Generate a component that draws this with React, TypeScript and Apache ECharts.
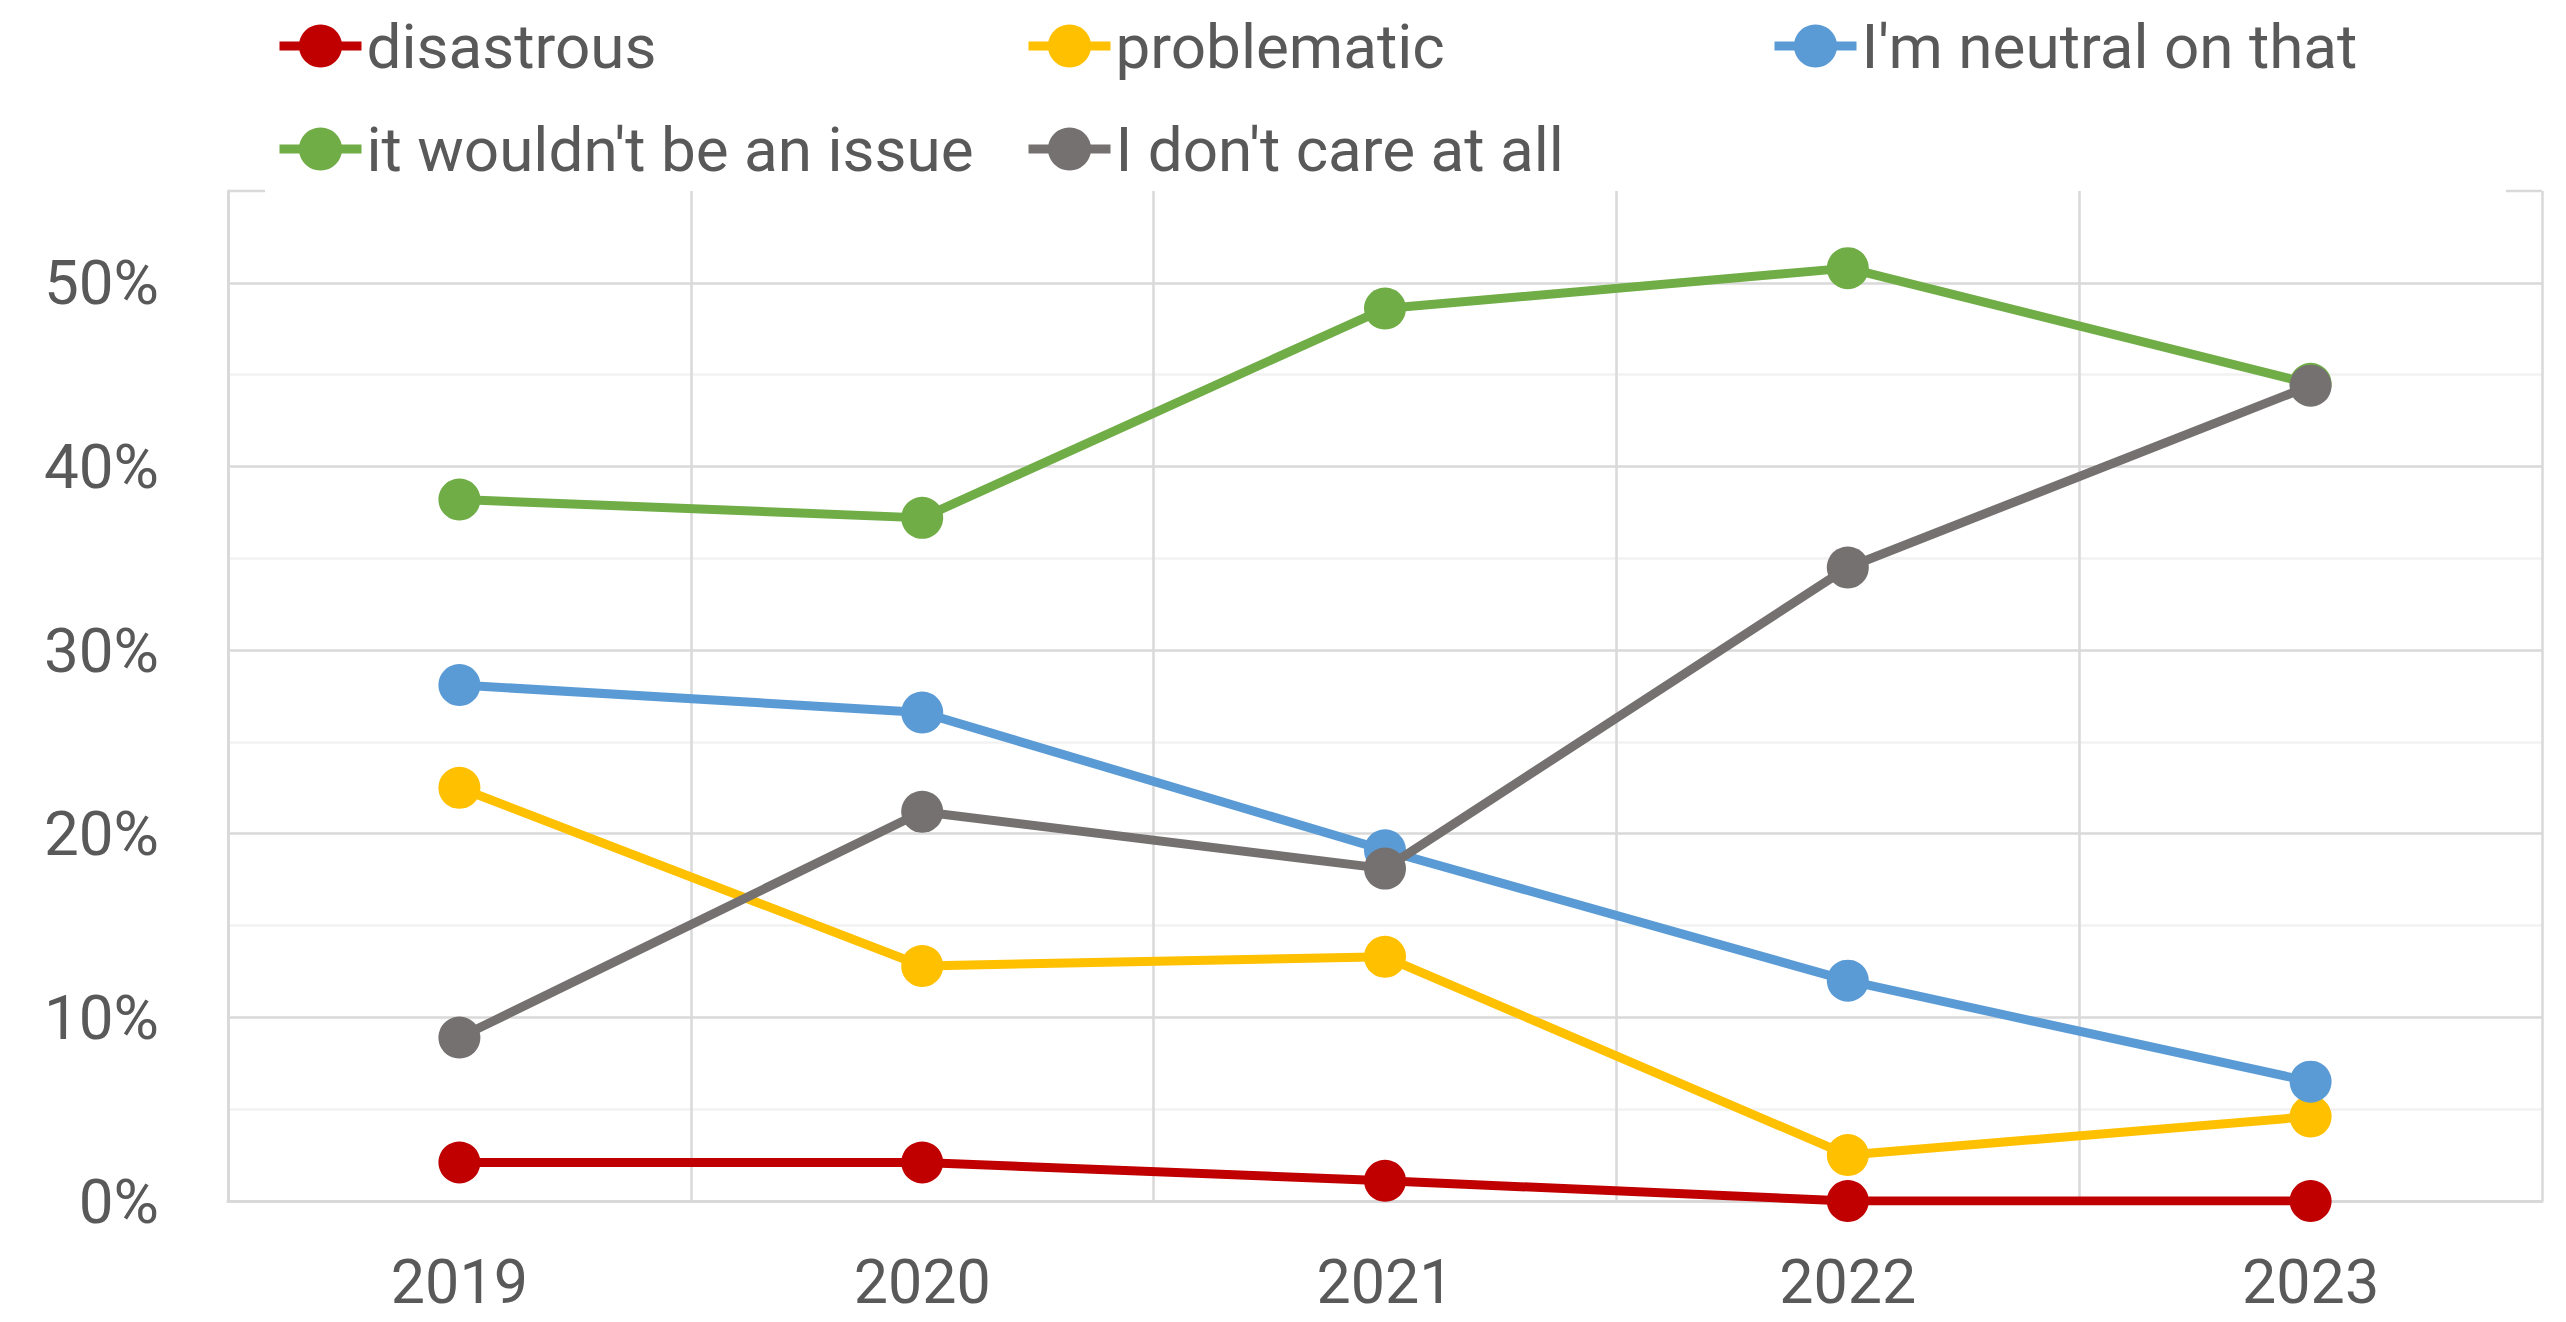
import React, { useEffect, useRef } from "react";
import * as echarts from "echarts";

const years = ["2019", "2020", "2021", "2022", "2023"];
const seriesNames = [
  "disastrous",
  "problematic",
  "I'm neutral on that",
  "it wouldn't be an issue",
  "I don't care at all",
];
const disastrous = [2.1, 2.1, 1.1, 0, 0];
const problematic = [22.5, 12.8, 13.3, 2.5, 4.6];
const neutral = [28.1, 26.6, 19.1, 12.0, 6.5];
const notAnIssue = [38.2, 37.2, 48.6, 50.8, 44.5];
const dontCare = [8.9, 21.2, 18.1, 34.5, 44.4];
const seriesColors = ["#C00000", "#FFC000", "#5B9BD5", "#70AD47", "#767171"];
const yTicks = [0, 5, 10, 15, 20, 25, 30, 35, 40, 45, 50, 55];

const TEXT = "#595959";
const FONT = "Roboto";

export default function App() {
  const ref = useRef<HTMLDivElement>(null);

  useEffect(() => {
    if (!ref.current) return;
    const chart = echarts.init(ref.current, undefined, { renderer: "svg" });
    const values = [disastrous, problematic, neutral, notAnIssue, dontCare];

    const legendPos = [
      { left: 275, top: 0 },
      { left: 1024, top: 0 },
      { left: 1770, top: 0 },
      { left: 275, top: 103 },
      { left: 1024, top: 103 },
    ];

    const splitColors = yTicks.map((t, i) =>
      i === yTicks.length - 1 ? "rgba(0,0,0,0)" : t % 10 === 0 ? "#D9D9D9" : "#F2F2F2"
    );

    chart.setOption({
      animation: false,
      backgroundColor: "#FFFFFF",
      textStyle: { fontFamily: FONT },
      legend: seriesNames.map((name, i) => ({
        data: [name],
        left: legendPos[i].left,
        top: legendPos[i].top + 15,
        padding: 0,
        itemWidth: 82,
        itemHeight: 54,
        selectedMode: false,
        lineStyle: { width: 9 },
        textStyle: { color: TEXT, fontSize: 62, fontFamily: FONT },
      })),
      grid: { left: 228, right: 24, top: 191, bottom: 121 },
      xAxis: {
        type: "category",
        data: years,
        boundaryGap: true,
        axisLine: { show: true, lineStyle: { color: "#D9D9D9", width: 3 } },
        axisTick: { show: false },
        axisLabel: { color: TEXT, fontSize: 61, lineHeight: 61, fontFamily: FONT, margin: 50 },
        splitLine: { show: true, lineStyle: { color: "#D9D9D9", width: 2.5 } },
      },
      yAxis: {
        type: "value",
        min: 0,
        max: 55,
        interval: 5,
        axisLine: { show: true, lineStyle: { color: "#D9D9D9", width: 3 } },
        axisTick: { show: false },
        axisLabel: {
          color: TEXT,
          fontSize: 62,
          fontFamily: FONT,
          margin: 69,
          formatter: (v: number) => (Math.round(v) % 10 === 0 && v < 55 ? `${Math.round(v)}%` : ""),
        },
        splitLine: { show: true, lineStyle: { color: splitColors, width: 2.5 } },
      },
      graphic: [
        { type: "line", shape: { x1: 228, y1: 191, x2: 265, y2: 191 }, style: { stroke: "#D9D9D9", lineWidth: 2.5 } },
        { type: "line", shape: { x1: 2506, y1: 191, x2: 2542, y2: 191 }, style: { stroke: "#D9D9D9", lineWidth: 2.5 } },
      ],
      series: seriesNames.map((name, i) => ({
        name,
        type: "line",
        data: values[i],
        symbol: "circle",
        symbolSize: 42,
        showSymbol: true,
        lineStyle: { color: seriesColors[i], width: 9 },
        itemStyle: { color: seriesColors[i] },
        emphasis: { disabled: true },
        z: 2 + i,
      })),
    });

    return () => chart.dispose();
  }, []);

  return (
    <div
      ref={ref}
      style={{ position: "fixed", left: 0, top: 0, width: 2566, height: 1322 }}
    />
  );
}
